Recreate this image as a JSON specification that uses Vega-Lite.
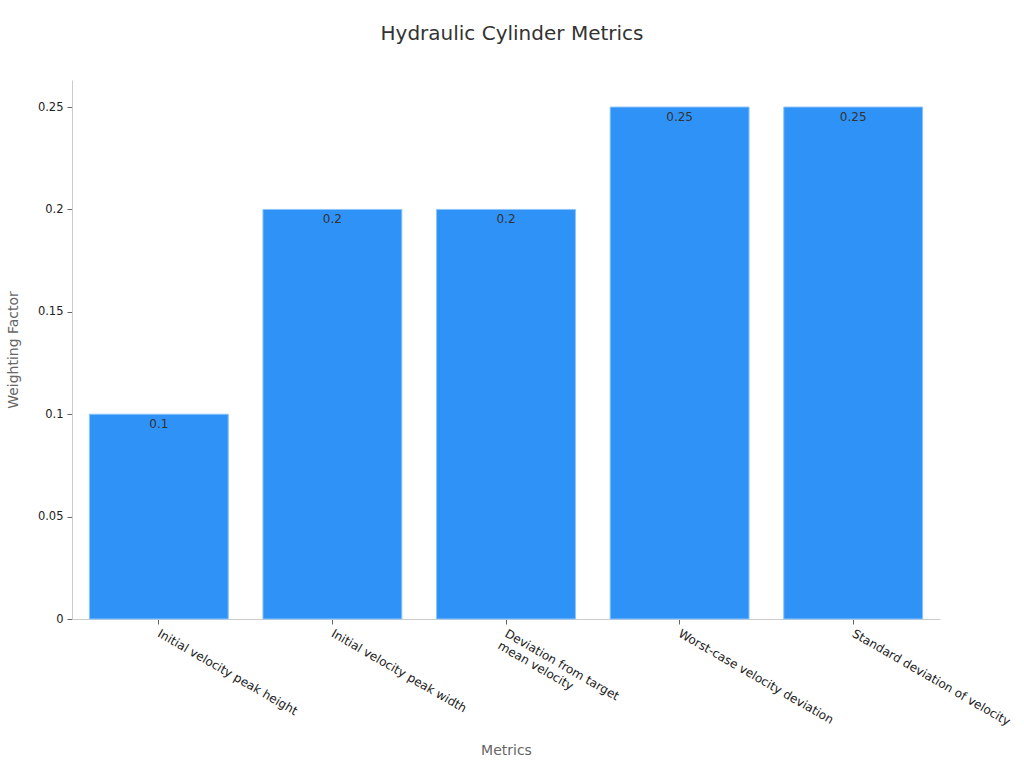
{
  "$schema": "https://vega.github.io/schema/vega-lite/v6.json",
  "width": 868,
  "height": 539,
  "autosize": {"type": "none"},
  "padding": {"left": 72, "top": 80, "right": 84, "bottom": 149},
  "background": "white",
  "title": {
    "text": "Hydraulic Cylinder Metrics",
    "fontSize": 20,
    "fontWeight": "normal",
    "color": "#333333",
    "font": "DejaVu Sans",
    "offset": 36,
    "dx": 6
  },
  "data": {
    "values": [
      {"Metric": "Initial velocity peak height", "Weight": 0.1},
      {"Metric": "Initial velocity peak width", "Weight": 0.2},
      {"Metric": "Deviation from target mean velocity", "Weight": 0.2},
      {"Metric": "Worst-case velocity deviation", "Weight": 0.25},
      {"Metric": "Standard deviation of velocity", "Weight": 0.25}
    ]
  },
  "encoding": {
    "x": {
      "field": "Metric",
      "type": "nominal",
      "sort": null,
      "title": "Metrics",
      "scale": {"paddingInner": 0.2, "paddingOuter": 0.1},
      "axis": {
        "labelAngle": 30,
        "labelAlign": "left",
        "labelBaseline": "middle",
        "labelPadding": 8,
        "labelFontSize": 12,
        "labelLimit": 400,
        "labelExpr": "datum.value == 'Deviation from target mean velocity' ? ['Deviation from target', 'mean velocity'] : datum.value",
        "titleY": 131,
        "titleBaseline": "middle"
      }
    },
    "y": {
      "field": "Weight",
      "type": "quantitative",
      "title": "Weighting Factor",
      "scale": {"domain": [0, 0.2632], "nice": false},
      "axis": {
        "values": [0, 0.05, 0.1, 0.15, 0.2, 0.25],
        "labelExpr": "datum.value == 0 ? '0' : format(datum.value, '.2~f')",
        "labelPadding": 4,
        "labelFontSize": 11.5,
        "titleX": -52
      }
    }
  },
  "layer": [
    {
      "mark": {"type": "bar", "color": "#2f92f7", "stroke": "#8cc4fb", "strokeWidth": 1}
    },
    {
      "mark": {"type": "text", "baseline": "top", "dy": 5, "fontSize": 12, "color": "#333333", "font": "DejaVu Sans"},
      "encoding": {"text": {"field": "Weight", "type": "quantitative"}}
    }
  ],
  "config": {
    "view": {"stroke": null},
    "axis": {
      "grid": false,
      "domainColor": "#cccccc",
      "tickColor": "#666666",
      "tickSize": 5,
      "labelFont": "DejaVu Sans",
      "labelFontSize": 11,
      "labelColor": "#222222",
      "titleFont": "DejaVu Sans",
      "titleFontSize": 14,
      "titleFontWeight": "normal",
      "titleColor": "#666666"
    }
  }
}
